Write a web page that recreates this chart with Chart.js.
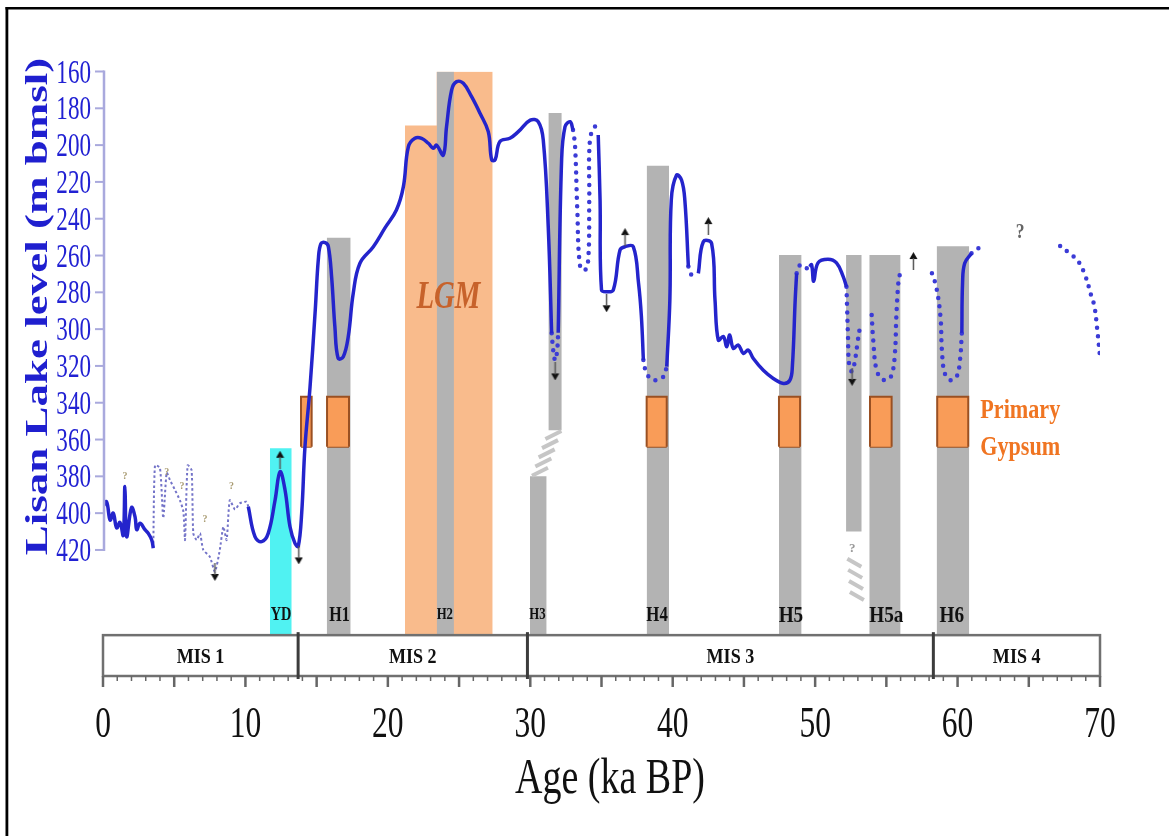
<!DOCTYPE html>
<html>
<head>
<meta charset="utf-8">
<title>Lisan Lake level</title>
<script src="https://cdn.jsdelivr.net/npm/chart.js@4.4.1/dist/chart.umd.min.js"></script>
<style>
  body { margin: 0; background: #fff; }
  canvas { display: block; }
</style>
</head>
<body>
<canvas id="lake" width="1169" height="836"></canvas>
<script>
// ages in ka BP, lake levels in m bmsl, null level = gap in the curve
var solidAge = [
  0.0, 0.25, 0.5, 0.72, 0.96, 1.19, 1.42, 1.54, 1.66, 2.0, 2.25, 2.37, 2.6, 2.95, 3.18, 3.42, 3.53,
  3.6,
  10.2, 10.67, 11.14, 11.6, 12.08, 12.43, 12.78, 13.13, 13.48, 13.71, 13.95, 14.18, 14.53, 14.9, 15.12,
  15.3, 15.6, 15.82, 16.05, 16.28, 16.51, 16.87, 17.22, 17.57, 18.04, 18.98, 19.8, 20.6, 21.09, 21.44,
  21.9, 22.37, 22.84, 23.19, 23.42, 23.89, 24.12, 24.48, 24.83, 25.3, 25.88, 26.47, 27.05, 27.29, 27.53,
  27.87, 28.57, 29.16, 30.0, 30.56, 30.91, 31.26, 31.5,
  31.7,
  31.96, 32.2, 32.44, 32.8, 33.0,
  33.1,
  34.77, 34.9, 35.0, 35.36, 35.83, 36.3, 36.65, 37.23, 37.6, 37.8, 37.94,
  38.0,
  39.58, 39.8, 39.9, 40.27, 40.62, 40.85, 41.1,
  41.2,
  41.8, 42.15, 42.73, 42.97, 43.2, 43.55, 43.8, 44.0, 44.25, 44.6, 44.96, 45.3, 45.66, 46.36, 47.06,
  47.77, 48.23, 48.4, 48.6, 48.7,
  48.8,
  49.6, 49.75, 49.9, 50.2, 50.9, 51.5, 51.97, 52.2,
  52.25,
  60.3, 60.35, 60.5, 60.98
];
var solidLevel = [
  396.5, 393.8, 403.8, 400, 408, 405, 412, 385.6, 412.8, 397, 402, 409, 405.5, 409, 411, 414.6, 419,
  null,
  396.5, 412.8, 415.5, 411, 393, 377.5, 387.4, 407.4, 416.4, 418, 400, 364, 332, 290, 262,
  253.5, 253, 255, 271.5, 298.7, 315.9, 315, 304, 280.5, 264.2, 255.2, 245, 235.3, 222.6, 200.9,
  196.3, 196.3, 199, 201.7, 200, 205.4, 190, 170, 165.5, 166.4, 173.7, 182.7, 192.7, 208, 208,
  198, 196.3, 192.7, 186.4, 187.3, 197.2, 244.3, 302.3,
  null,
  302, 208, 190, 187.3, 191.8,
  null,
  194.5, 230, 278.7, 279.7, 278.7, 257, 255.2, 255.2, 275, 293, 316.8,
  null,
  320.4, 284, 229.8, 216.3, 219, 229.8, 266,
  null,
  269.7, 252.5, 253.4, 284.2, 306, 304, 309.6, 303.2, 310.4, 308.6, 313.2, 311.4, 316, 322.4, 326.8,
  329.5, 327.7, 320.4, 284, 269.7,
  null,
  266, 265, 274, 264, 262, 264, 271.5, 277,
  null,
  302, 275, 264.2, 258.8
];

// dotted (uncertain) parts of the curve
var dotAge = [
  31.5, 31.62, 31.75, 31.88, 31.96,
  32.0,
  33.0, 33.14, 33.3, 33.5, 33.84, 34.07, 34.14, 34.19, 34.54, 34.73,
  34.75,
  37.94, 38.17, 38.64, 39.34, 39.58,
  39.6,
  41.1, 41.33, 41.8,
  41.85,
  48.7, 48.94, 49.3, 49.6,
  49.65,
  52.2, 52.25, 52.3, 52.4, 52.6, 52.8, 53.0, 53.15,
  53.5,
  53.97, 54.08, 54.3, 54.66, 55.0, 55.37, 55.6, 55.7, 55.84, 55.96,
  57.0,
  58.2, 58.5, 58.8, 58.9, 59.1, 59.5, 59.93, 60.17, 60.3,
  60.5,
  60.98, 61.33, 61.7,
  64.0,
  67.2, 67.9, 68.5, 69.0, 69.35, 69.6, 69.8, 70.0
];
var dotLevel = [
  302.3, 312, 317, 312, 302,
  null,
  191.8, 200, 235, 266, 268, 262, 230, 197, 190, 192,
  null,
  316.8, 324, 327.7, 325.9, 320.4,
  null,
  266, 270.6, 269.7,
  null,
  269.7, 265.2, 267, 266,
  null,
  277, 290, 302.3, 320.4, 323, 316.8, 306, 298.7,
  null,
  292.3, 306, 322, 326.8, 327.7, 325, 313.2, 293.3, 275, 269.7,
  null,
  269.7, 277, 293.3, 311.4, 324, 327.7, 325.9, 316.8, 302,
  null,
  258.8, 256.6, 255.2,
  null,
  254.8, 259, 263.5, 271.7, 281, 287.3, 299.8, 315
];

// early Holocene wiggles (thin dotted)
var holoAge = [3.53, 3.65, 4.0, 4.23, 4.47, 4.7, 5.06, 5.4, 5.64, 5.76, 5.94, 6.22, 6.34, 6.58, 6.81,
  7.04, 7.5, 7.86, 8.2, 8.45, 8.68, 8.9, 9.27, 9.6, 10.08, 10.2];
var holoLevel = [419, 374, 375.5, 402.7, 378, 382, 387.5, 393, 399, 414.6, 374, 376.6, 411, 414.6, 411,
  420, 423.7, 431.8, 420, 407.4, 414.6, 393, 398, 394.7, 393.8, 396.5];

// arrows marking higher / lower than shown
var arrowAge   = [7.86, 12.43, 13.75, 31.75, 35.36, 36.65, 42.5, 52.6, 56.9];
var arrowLevel = [432, 371, 423, 323, 286, 250, 244, 326, 263];
var arrowDir   = ['down', 'up', 'down', 'down', 'down', 'up', 'up', 'down', 'up'];

// small question marks on the Holocene curve
var qAge   = [1.54, 4.47, 5.55, 7.16, 9.03];
var qLevel = [381.5, 379, 387, 404.7, 387];

// Heinrich event bands (H3 and the narrow one by H5a come in two pieces)
var baseLevel  = 466.3;
var grayStart  = [15.71, 23.43, 31.27, 29.98, 38.17, 47.46, 52.17, 53.80, 58.53];
var grayEnd    = [17.39, 24.64, 32.21, 31.15, 39.74, 49.05, 53.27, 56.00, 60.82];
var grayTop    = [250.3, 160.0, 182.6, 380.0, 211.2, 259.7, 259.7, 259.7, 255.0];
var grayBottom = [baseLevel, baseLevel, 355, baseLevel, baseLevel, baseLevel, 410, baseLevel, baseLevel];

var lgmAge = [21.2, 23.43, 27.36];
var lgmTop = [189.4, 160, 160];
var ydAge = [11.72, 13.25];
var ydTop = 364.8;

// primary gypsum boxes
var gypStart = [13.9, 15.73, 38.17, 47.46, 53.85, 58.57];
var gypEnd   = [14.65, 17.27, 39.58, 48.94, 55.37, 60.75];
var gypTop = 336.7;
var gypBottom = 363.9;

var eventNames = ['YD', 'H1', 'H2', 'H3', 'H4', 'H5', 'H5a', 'H6'];
var eventAge   = [12.5, 16.6, 24.0, 30.5, 38.9, 48.3, 55.0, 59.6];

var misNames  = ['MIS 1', 'MIS 2', 'MIS 3', 'MIS 4'];
var misBounds = [0, 13.7, 29.8, 58.3, 70];

var yTicks = [160, 180, 200, 220, 240, 260, 280, 300, 320, 340, 360, 380, 400, 420];
var xTicks = [0, 10, 20, 30, 40, 50, 60, 70];

var SERIF = '"Liberation Serif", "Times New Roman", serif';

function pts(ages, levels) {
  return ages.map(function(a, i) { return {x: a, y: levels[i]}; });
}

function txt(ctx, s, x, y, font, color, sx, align) {
  ctx.save();
  ctx.font = font;
  ctx.fillStyle = color;
  ctx.textAlign = align || 'center';
  ctx.textBaseline = 'alphabetic';
  ctx.translate(x, y);
  ctx.scale(sx, 1);
  ctx.fillText(s, 0, 0);
  ctx.restore();
}

// small up-arrow sprite used as point style (rotated for down arrows)
var arrowImg = document.createElement('canvas');
arrowImg.width = 9;
arrowImg.height = 18;
(function() {
  var c = arrowImg.getContext('2d');
  c.fillStyle = '#111';
  c.beginPath();
  c.moveTo(4.5, 0);
  c.lineTo(8.5, 7);
  c.lineTo(0.5, 7);
  c.closePath();
  c.fill();
  c.strokeStyle = '#555';
  c.lineWidth = 1.5;
  c.beginPath();
  c.moveTo(4.5, 6);
  c.lineTo(4.5, 18);
  c.stroke();
})();

var datasets = [];

datasets.push({
  data: pts(arrowAge, arrowLevel), showLine: false, pointStyle: arrowImg, pointRadius: 5,
  pointRotation: function(c) { return arrowDir[c.dataIndex] === 'down' ? 180 : 0; },
  order: 0
});
datasets.push({
  data: pts(solidAge, solidLevel), borderColor: '#2424cc', borderWidth: 3.5, tension: 0.4,
  pointRadius: 0, fill: false, order: 1
});
datasets.push({
  data: pts(dotAge, dotLevel), borderColor: '#3b3bd6', borderWidth: 4.5, borderDash: [0, 8.5],
  borderCapStyle: 'round', tension: 0.4, pointRadius: 0, fill: false, order: 1
});
datasets.push({
  data: pts(holoAge, holoLevel), borderColor: '#7373c8', borderWidth: 2, borderDash: [2.5, 2.5],
  tension: 0.2, pointRadius: 0, fill: false, order: 1
});

gypStart.forEach(function(s, i) {
  datasets.push({
    data: [{x: s, y: gypBottom}, {x: s, y: gypTop}, {x: gypEnd[i], y: gypTop}, {x: gypEnd[i], y: gypBottom}],
    fill: {value: gypBottom}, backgroundColor: '#f99c58', borderColor: '#9a5022', borderWidth: 2,
    pointRadius: 0, order: 2
  });
  datasets.push({
    data: [{x: s, y: gypBottom}, {x: gypEnd[i], y: gypBottom}],
    borderColor: '#9a5022', borderWidth: 2, pointRadius: 0, fill: false, order: 2
  });
});

grayStart.forEach(function(s, i) {
  datasets.push({
    data: [{x: s, y: grayTop[i]}, {x: grayEnd[i], y: grayTop[i]}],
    fill: {value: grayBottom[i]}, backgroundColor: '#b3b3b3', borderColor: 'rgba(0,0,0,0)',
    borderWidth: 0, pointRadius: 0, order: 3
  });
});

// step: flat at the first level, then up to the second
datasets.push({
  data: pts(lgmAge, lgmTop), stepped: 'before', fill: {value: baseLevel},
  backgroundColor: '#f9bb8c', borderColor: 'rgba(0,0,0,0)', borderWidth: 0, pointRadius: 0, order: 4
});
datasets.push({
  data: [{x: ydAge[0], y: ydTop}, {x: ydAge[1], y: ydTop}], fill: {value: baseLevel},
  backgroundColor: '#50f2f2', borderColor: 'rgba(0,0,0,0)', borderWidth: 0, pointRadius: 0, order: 4
});

var decor = {
  id: 'decor',
  beforeDraw: function(chart) {
    var ctx = chart.ctx;
    ctx.save();
    ctx.fillStyle = '#fff';
    ctx.fillRect(0, 0, chart.width, chart.height);
    ctx.restore();
  },
  afterDatasetsDraw: function(chart) {
    var ctx = chart.ctx, xs = chart.scales.x, ys = chart.scales.y;
    var boxTop = ys.getPixelForValue(baseLevel);

    // hatched joins under H3 and the narrow band
    ctx.save();
    ctx.strokeStyle = '#c6c6c6';
    ctx.lineWidth = 4;
    for (var k = 0; k < 5; k++) {
      var t = (k + 0.5) / 5;
      var cx = xs.getPixelForValue(31.74 - t * 1.18);
      var cy = ys.getPixelForValue(355) + t * (ys.getPixelForValue(380) - ys.getPixelForValue(355));
      ctx.beginPath();
      ctx.moveTo(cx - 8, cy + 4);
      ctx.lineTo(cx + 8, cy - 4);
      ctx.stroke();
    }
    for (k = 0; k < 4; k++) {
      cx = xs.getPixelForValue(52.75 + k * 0.06);
      cy = ys.getPixelForValue(427 + k * 6);
      ctx.beginPath();
      ctx.moveTo(cx - 7, cy - 4);
      ctx.lineTo(cx + 7, cy + 4);
      ctx.stroke();
    }
    ctx.restore();
    txt(ctx, '?', xs.getPixelForValue(52.6), ys.getPixelForValue(421), 'bold 13px ' + SERIF, '#999', 1, 'center');

    // question marks
    qAge.forEach(function(a, i) {
      txt(ctx, '?', xs.getPixelForValue(a), ys.getPixelForValue(qLevel[i]), 'bold 10px ' + SERIF, '#a89a70', 1, 'center');
    });
    txt(ctx, '?', xs.getPixelForValue(64.4), ys.getPixelForValue(250.5), 'bold 22px ' + SERIF, '#666', 0.8, 'center');

    // event labels just above the MIS strip
    var sizes = [18, 20, 16, 16, 21, 24, 24, 24];
    eventNames.forEach(function(n, i) {
      txt(ctx, n, xs.getPixelForValue(eventAge[i]), boxTop - 21 + 0.33 * sizes[i],
        'bold ' + sizes[i] + 'px ' + SERIF, '#111', 0.8, 'center');
    });

    txt(ctx, 'LGM', xs.getPixelForValue(24.25), ys.getPixelForValue(288.7),
      'italic bold 40px ' + SERIF, '#c7622b', 0.72, 'center');
    txt(ctx, 'Primary', xs.getPixelForValue(64.4), ys.getPixelForValue(348.4),
      'bold 27px ' + SERIF, '#f07522', 0.82, 'center');
    txt(ctx, 'Gypsum', xs.getPixelForValue(64.4), ys.getPixelForValue(368.5),
      'bold 27px ' + SERIF, '#f07522', 0.82, 'center');
  },
  afterDraw: function(chart) {
    var ctx = chart.ctx, xs = chart.scales.x, ys = chart.scales.y, area = chart.chartArea;
    var x0 = xs.getPixelForValue(0), x70 = xs.getPixelForValue(70);

    // y axis
    ctx.save();
    ctx.strokeStyle = '#a9a9dd';
    ctx.lineWidth = 2.5;
    ctx.beginPath();
    ctx.moveTo(x0 + 1, ys.getPixelForValue(yTicks[0]) - 1);
    ctx.lineTo(x0 + 1, ys.getPixelForValue(yTicks[yTicks.length - 1]) + 1);
    ctx.stroke();
    ctx.lineWidth = 2;
    yTicks.forEach(function(v) {
      var py = ys.getPixelForValue(v);
      ctx.beginPath();
      ctx.moveTo(x0 - 8, py);
      ctx.lineTo(x0 + 1, py);
      ctx.stroke();
      txt(ctx, String(v), x0 - 12, py + 11, '33px ' + SERIF, '#2121d3', 0.7, 'right');
    });
    ctx.restore();

    ctx.save();
    ctx.translate(46.5, 306.5);
    ctx.scale(0.7, 1);
    ctx.rotate(-Math.PI / 2);
    ctx.font = 'bold 45px ' + SERIF;
    ctx.fillStyle = '#1f1fcf';
    ctx.textAlign = 'center';
    ctx.textBaseline = 'alphabetic';
    ctx.fillText('Lisan Lake level (m bmsl)', 0, 0);
    ctx.restore();

    // MIS strip
    var top = ys.getPixelForValue(baseLevel), bottom = area.bottom;
    ctx.save();
    ctx.fillStyle = '#fff';
    ctx.fillRect(x0, top, x70 - x0, bottom - top);
    ctx.strokeStyle = '#707070';
    ctx.lineWidth = 2.5;
    ctx.strokeRect(x0, top, x70 - x0, bottom - top);
    ctx.strokeStyle = '#3c3c3c';
    ctx.lineWidth = 3;
    for (var i = 1; i < misBounds.length - 1; i++) {
      var bx = xs.getPixelForValue(misBounds[i]);
      ctx.beginPath();
      ctx.moveTo(bx, top - 3);
      ctx.lineTo(bx, bottom + 3);
      ctx.stroke();
    }
    ctx.strokeStyle = '#666';
    for (var k = 0; k <= 70; k++) {
      var px = xs.getPixelForValue(k);
      ctx.lineWidth = k % 5 === 0 ? 2.5 : 1.5;
      ctx.beginPath();
      ctx.moveTo(px, bottom);
      ctx.lineTo(px, bottom + (k % 5 === 0 ? 11 : 5));
      ctx.stroke();
    }
    ctx.restore();
    misNames.forEach(function(n, i) {
      var cx = (xs.getPixelForValue(misBounds[i]) + xs.getPixelForValue(misBounds[i + 1])) / 2;
      txt(ctx, n, cx, (top + bottom) / 2 + 7.5, 'bold 22px ' + SERIF, '#111', 0.82, 'center');
    });

    // x labels and title
    xTicks.forEach(function(v) {
      txt(ctx, String(v), xs.getPixelForValue(v), bottom + 61, '45px ' + SERIF, '#111', 0.7, 'center');
    });
    txt(ctx, 'Age (ka BP)', 610, bottom + 117, '50px ' + SERIF, '#111', 0.76, 'center');

    // frame
    ctx.save();
    ctx.fillStyle = '#000';
    ctx.fillRect(5.5, 7, 2.8, chart.height - 7);
    ctx.fillRect(5.5, 7, chart.width - 5.5, 2.5);
    ctx.restore();
  }
};

new Chart(document.getElementById('lake'), {
  type: 'line',
  data: { datasets: datasets },
  options: {
    responsive: false,
    animation: false,
    events: [],
    layout: { padding: { left: 103, right: 69, top: 71.5, bottom: 160 } },
    plugins: { legend: { display: false }, tooltip: { enabled: false } },
    scales: {
      x: { type: 'linear', min: 0, max: 70, display: false },
      y: { type: 'linear', reverse: true, min: 160, max: 488.5, display: false }
    }
  },
  plugins: [decor]
});
</script>
</body>
</html>
